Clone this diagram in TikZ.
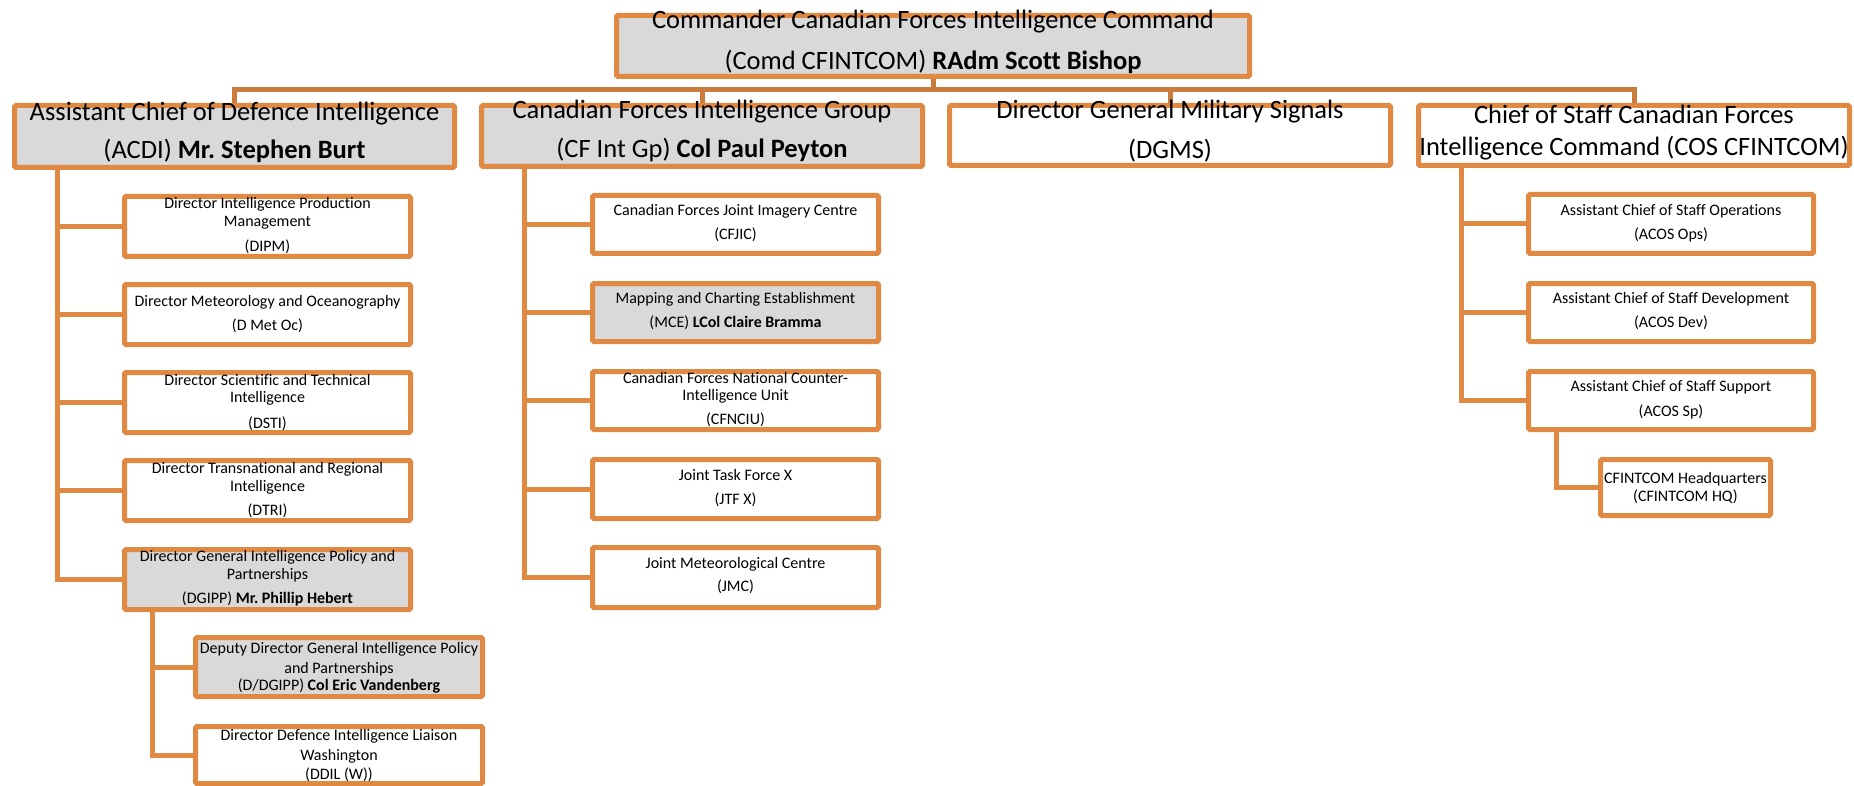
\documentclass[tikz,border=0pt]{standalone}
\usepackage{fontspec}
\setmainfont{Carlito}[Ligatures=NoCommon]
\usetikzlibrary{backgrounds}
\definecolor{borderc}{RGB}{224,137,66}
\definecolor{barc}{RGB}{201,124,60}
\definecolor{greyf}{RGB}{217,217,217}
\tikzset{
  orgbox/.style={draw=borderc, line width=5pt, rounded corners=1.5pt, fill=white, inner sep=0pt},
  greybox/.style={orgbox, fill=greyf},
  big/.style={font=\fontsize{26.5}{30}\selectfont, inner sep=0pt, text height=0.64em, text depth=0pt},
  small/.style={font=\fontsize{16}{18}\selectfont, inner sep=0pt, text height=0.64em, text depth=0pt},
  barline/.style={draw=barc, line width=5pt},
  conn/.style={draw=borderc, line width=5pt},
}
\newcommand\obox[6]{\node[#6, minimum width={(#4-#2-5)*1pt}, minimum height={(#5-#3-5)*1pt}] (#1) at ({(#2+#4)/2},{(#3+#5)/2}) {};}
\begin{document}
\begin{tikzpicture}[x=1pt,y=-1pt]
\useasboundingbox (0,0) rectangle (1854,786);
% level 0 and 1
\obox{top}{614}{13}{1252}{79}{greybox}
\obox{acdi}{12}{103}{457}{170}{greybox}
\obox{cfig}{479}{103}{925}{169}{greybox}
\obox{dgms}{947}{103}{1393}{168}{orgbox}
\obox{cos}{1416}{103}{1852}{168}{orgbox}
% ACDI children
\obox{dipm}{122}{194}{413}{259}{orgbox}
\obox{dmetoc}{122}{282}{413}{347}{orgbox}
\obox{dsti}{122}{370}{413}{435}{orgbox}
\obox{dtri}{122}{458}{413}{523}{orgbox}
\obox{dgipp}{122}{547}{413}{612}{greybox}
\obox{ddgipp}{193}{635}{485}{699}{greybox}
\obox{ddil}{193}{724}{485}{786}{orgbox}
% CF Int Gp children
\obox{cfjic}{590}{193}{881}{256}{orgbox}
\obox{mce}{590}{281}{881}{344}{greybox}
\obox{cfnciu}{590}{369}{881}{432}{orgbox}
\obox{jtfx}{590}{457}{881}{521}{orgbox}
\obox{jmc}{590}{545}{881}{610}{orgbox}
% COS children
\obox{ops}{1526}{192}{1816}{256}{orgbox}
\obox{dev}{1526}{281}{1816}{344}{orgbox}
\obox{sp}{1526}{369}{1816}{432}{orgbox}
\obox{hq}{1598}{457}{1773}{518}{orgbox}

% texts
\node[big] (top-1) at (933,25) {Commander Canadian Forces Intelligence Command};
\node[big] (top-2) at (933,66) {(Comd CFINTCOM) \textbf{RAdm Scott Bishop}};
\node[big] (acdi-1) at (234.5,117) {Assistant Chief of Defence Intelligence};
\node[big] (acdi-2) at (234.5,155) {(ACDI) \textbf{Mr.\ Stephen Burt}};
\node[big] (cfig-1) at (702,115) {Canadian Forces Intelligence Group};
\node[big] (cfig-2) at (702,154) {(CF Int Gp) \textbf{Col Paul Peyton}};
\node[big] (dgms-1) at (1170,115) {Director General Military Signals};
\node[big] (dgms-2) at (1170,155) {(DGMS)};
\node[big] (cos-1) at (1634,120) {Chief of Staff Canadian Forces};
\node[big] (cos-2) at (1634,152) {Intelligence Command (COS CFINTCOM)};

\node[small] (dipm-1) at (267.5,205) {Director Intelligence Production};
\node[small] (dipm-2) at (267.5,223) {Management};
\node[small] (dipm-3) at (267.5,248) {(DIPM)};
\node[small] (dmetoc-1) at (267.5,303) {Director Meteorology and Oceanography};
\node[small] (dmetoc-2) at (267.5,327) {(D Met Oc)};
\node[small] (dsti-1) at (267.5,382) {Director Scientific and Technical};
\node[small] (dsti-2) at (267.5,399) {Intelligence};
\node[small] (dsti-3) at (267.5,425) {(DSTI)};
\node[small] (dtri-1) at (267.5,470) {Director Transnational and Regional};
\node[small] (dtri-2) at (267.5,488) {Intelligence};
\node[small] (dtri-3) at (267.5,512) {(DTRI)};
\node[small] (dgipp-1) at (267.5,558) {Director General Intelligence Policy and};
\node[small] (dgipp-2) at (267.5,576) {Partnerships};
\node[small] (dgipp-3) at (267.5,600) {(DGIPP) \textbf{Mr.\ Phillip Hebert}};
\node[small] (ddgipp-1) at (339,650) {Deputy Director General Intelligence Policy};
\node[small] (ddgipp-2) at (339,670) {and Partnerships};
\node[small] (ddgipp-3) at (339,687) {(D/DGIPP) \textbf{Col Eric Vandenberg}};
\node[small] (ddil-1) at (339,737) {Director Defence Intelligence Liaison};
\node[small] (ddil-2) at (339,757) {Washington};
\node[small] (ddil-3) at (339,776) {(DDIL (W))};

\node[small] (cfjic-1) at (735.5,212) {Canadian Forces Joint Imagery Centre};
\node[small] (cfjic-2) at (735.5,236) {(CFJIC)};
\node[small] (mce-1) at (735.5,300) {Mapping and Charting Establishment};
\node[small] (mce-2) at (735.5,324) {(MCE) \textbf{LCol Claire Bramma}};
\node[small] (cfnciu-1) at (735.5,380) {Canadian Forces National Counter-};
\node[small] (cfnciu-2) at (735.5,397) {Intelligence Unit};
\node[small] (cfnciu-3) at (735.5,421) {(CFNCIU)};
\node[small] (jtfx-1) at (735.5,477) {Joint Task Force X};
\node[small] (jtfx-2) at (735.5,501) {(JTF X)};
\node[small] (jmc-1) at (735.5,565) {Joint Meteorological Centre};
\node[small] (jmc-2) at (735.5,588) {(JMC)};

\node[small] (ops-1) at (1671,212) {Assistant Chief of Staff Operations};
\node[small] (ops-2) at (1671,236) {(ACOS Ops)};
\node[small] (dev-1) at (1671,300) {Assistant Chief of Staff Development};
\node[small] (dev-2) at (1671,324) {(ACOS Dev)};
\node[small] (sp-1) at (1671,388) {Assistant Chief of Staff Support};
\node[small] (sp-2) at (1671,413) {(ACOS Sp)};
\node[small] (hq-1) at (1685.5,480) {CFINTCOM Headquarters};
\node[small] (hq-2) at (1685.5,498) {(CFINTCOM HQ)};

% connectors
\begin{scope}[on background layer]
\coordinate (bus) at (0,90);
\coordinate (ta) at (57,0);
\coordinate (tb) at (152,0);
\coordinate (tc) at (524,0);
\coordinate (td) at (1461,0);
\coordinate (te) at (1556,0);
\draw[barline] (acdi.north) |- (cos.north |- bus) -- (cos.north);
\draw[barline] (top.south) -- (top.south |- bus);
\draw[barline] (cfig.north) -- (cfig.north |- bus);
\draw[barline] (dgms.north) -- (dgms.north |- bus);
% ACDI
\draw[conn] (acdi.south -| ta) |- (dgipp.west);
\draw[conn] (ta |- dipm.west) -- (dipm.west);
\draw[conn] (ta |- dmetoc.west) -- (dmetoc.west);
\draw[conn] (ta |- dsti.west) -- (dsti.west);
\draw[conn] (ta |- dtri.west) -- (dtri.west);
% DGIPP
\draw[conn] (dgipp.south -| tb) |- (ddil.west);
\draw[conn] (tb |- ddgipp.west) -- (ddgipp.west);
% CF Int Gp
\draw[conn] (cfig.south -| tc) |- (jmc.west);
\draw[conn] (tc |- cfjic.west) -- (cfjic.west);
\draw[conn] (tc |- mce.west) -- (mce.west);
\draw[conn] (tc |- cfnciu.west) -- (cfnciu.west);
\draw[conn] (tc |- jtfx.west) -- (jtfx.west);
% COS
\draw[conn] (cos.south -| td) |- (sp.west);
\draw[conn] (td |- ops.west) -- (ops.west);
\draw[conn] (td |- dev.west) -- (dev.west);
\draw[conn] (sp.south -| te) |- (hq.west);
\end{scope}
\end{tikzpicture}
\end{document}
